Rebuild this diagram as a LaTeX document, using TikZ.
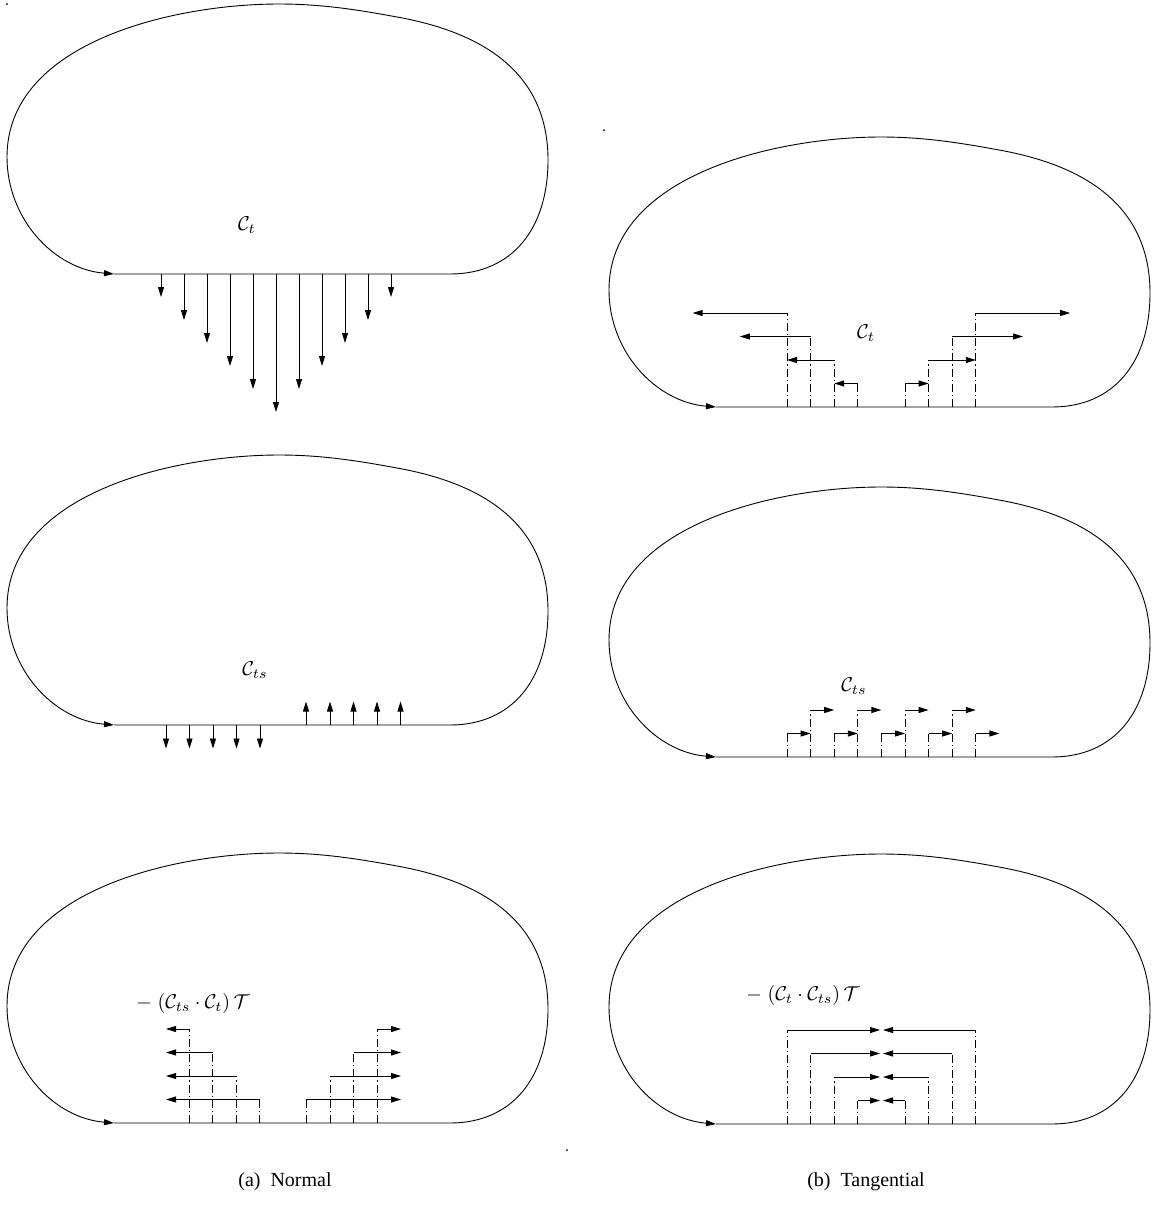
\documentclass[tikz,border=0pt]{standalone}
\usepackage[no-math]{fontspec}
\setmainfont{Liberation Serif}
\usetikzlibrary{arrows.meta}
\tikzset{
  ln/.style={line width=0.45pt},
  arr/.style={ln,-{Triangle[length=5pt,width=3pt]}},
  dd/.style={ln,dash pattern=on 4pt off 1.5pt on 0.6pt off 1.5pt},
  lbl/.style={inner sep=0pt},
  blob/.pic={
    \draw[arr] (0,0) -- (336,0)
      .. controls (398,0) and (434,-45) .. (434,-114)
      .. controls (434,-195) and (378,-240) .. (283,-257)
      .. controls (240,-265) and (205,-270) .. (165,-270)
      .. controls (60,-270) and (-107,-232) .. (-107,-117)
      .. controls (-107,-55) and (-60,-5) .. (0,0);
  },
  dotmark/.style={fill=black,inner sep=0pt,minimum size=1pt,circle}
}
\begin{document}
\begin{tikzpicture}[x=0.5pt,y=-0.5pt]
\useasboundingbox (0,0) rectangle (1154,1206);

% ---------- (a) Normal ----------
\pic at (114,274) {blob};
\node[lbl] (ct1) at (247,225) {$\mathcal{C}_t$};
\foreach \i in {0,...,10}{
  \pgfmathsetmacro\len{23*min(\i+1,11-\i)}
  \draw[arr] (161+23*\i,274) -- ++(0,\len);
}

\pic at (114,725) {blob};
\node[lbl] (cts1) at (255,670) {$\mathcal{C}_{ts}$};
\foreach \x in {166,189.5,213,236.5,260}
  \draw[arr] (\x,725) -- ++(0,23.5);
\foreach \x in {306,330,353.5,377,400.5}
  \draw[arr] (\x,725) -- ++(0,-23.5);

\pic at (114,1123) {blob};
\node[lbl] (prod1) at (193,1003) {$-\;(\mathcal{C}_{ts}\cdot\mathcal{C}_t)\,\mathcal{T}$};
\foreach \x/\k in {189/4,212.5/3,236/2,259.5/1}{
  \draw[dd] (\x,1123) -- (\x,1123-23.5*\k);
  \draw[arr] (\x,1123-23.5*\k) -- (166,1123-23.5*\k);
}
\foreach \x/\k in {306/1,330/2,353.5/3,377/4}{
  \draw[dd] (\x,1123) -- (\x,1123-23.5*\k);
  \draw[arr] (\x,1123-23.5*\k) -- (401,1123-23.5*\k);
}

% ---------- (b) Tangential ----------
\pic at (716,407) {blob};
\node[lbl] (ct2) at (866,333) {$\mathcal{C}_t$};
\foreach \i/\k in {0/4,1/3,2/2,3/1}{
  \draw[dd] (787+23.6*\i,407) -- (787+23.6*\i,407-23.5*\k);
  \draw[arr] (787+23.6*\i,407-23.5*\k) -- (787+23.6*\i-23.6*\k,407-23.5*\k);
}
\foreach \i/\k in {5/1,6/2,7/3,8/4}{
  \draw[dd] (787+23.6*\i,407) -- (787+23.6*\i,407-23.5*\k);
  \draw[arr] (787+23.6*\i,407-23.5*\k) -- (787+23.6*\i+23.6*\k,407-23.5*\k);
}

\pic at (716,757) {blob};
\node[lbl] (cts2) at (854,686) {$\mathcal{C}_{ts}$};
\foreach \i/\k in {0/1,1/2,2/1,3/2,4/1,5/2,6/1,7/2,8/1}{
  \draw[dd] (787+23.6*\i,757) -- (787+23.6*\i,757-23.5*\k);
  \draw[arr] (787+23.6*\i,757-23.5*\k) -- (787+23.6*\i+23.6,757-23.5*\k);
}

\pic at (716,1124) {blob};
\node[lbl] (prod2) at (803,995) {$-\;(\mathcal{C}_{t}\cdot\mathcal{C}_{ts})\,\mathcal{T}$};
\foreach \i/\k in {0/4,1/3,2/2,3/1}{
  \draw[dd] (787+23.6*\i,1124) -- (787+23.6*\i,1124-23.5*\k);
  \draw[arr] (787+23.6*\i,1124-23.5*\k) -- (880,1124-23.5*\k);
}
\foreach \i/\k in {5/1,6/2,7/3,8/4}{
  \draw[dd] (787+23.6*\i,1124) -- (787+23.6*\i,1124-23.5*\k);
  \draw[arr] (787+23.6*\i,1124-23.5*\k) -- (883,1124-23.5*\k);
}

% captions
\node[lbl] (capa) at (285,1182) {(a)\ \ Normal};
\node[lbl] (capb) at (866,1182) {(b)\ \ Tangential};

% small corner marks
\node[dotmark] (m1) at (7,4) {};
\node[dotmark] (m2) at (604,130) {};
\node[dotmark] (m3) at (567,1150) {};
\end{tikzpicture}
\end{document}
